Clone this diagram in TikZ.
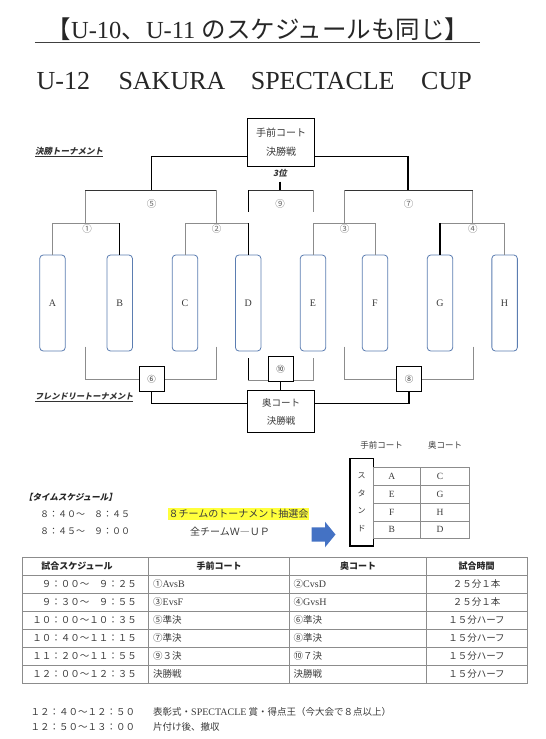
\documentclass[tikz,border=0pt]{standalone}
\usepackage{fontspec}
\setmainfont{Liberation Serif}
\newfontfamily\cjk{Noto Sans CJK JP}
\newfontfamily\cjksl[FakeSlant=0.2]{Noto Sans CJK JP}
\newcommand\JP[1]{{\cjk #1}}
\usetikzlibrary{calc,backgrounds}
\definecolor{teamblue}{HTML}{5B7DB1}
\definecolor{arrowblue}{HTML}{4472C4}
\definecolor{lngray}{HTML}{8C8C8C}
\definecolor{txtgray}{HTML}{3A3A3A}
\definecolor{hl}{HTML}{FFFF3C}
\begin{document}
\begin{tikzpicture}[x=1pt,y=-1pt,
  every node/.style={inner sep=0pt},
  dk/.style={draw=black, line width=1.1pt},
  md/.style={draw=black!80, line width=0.85pt},
  gl/.style={draw=lngray, line width=0.75pt},
  team/.style={draw=teamblue, line width=0.8pt, rounded corners=3.5pt, minimum width=25.5pt, minimum height=96pt, font=\fontsize{10}{12}\selectfont, text=txtgray},
  fbox/.style={draw=black, line width=1pt, minimum width=66.5pt, fill=white, align=center, text=txtgray},
  sbox/.style={draw=black, line width=1pt, minimum width=25pt, minimum height=25.5pt, fill=white, font=\cjk\fontsize{8.5}{10}\selectfont, text=txtgray},
  num/.style={font=\cjk\fontsize{9.5}{10}\selectfont, text=black!60},
  jt/.style={font=\cjk\fontsize{9.5}{11}\selectfont, text=txtgray},
  cellbox/.style={draw=lngray, line width=0.7pt, minimum height=17.8pt},
  letter/.style={font=\fontsize{9.5}{11}\selectfont, text=txtgray},
  hdr/.style={font=\cjk\bfseries\fontsize{9}{10}\selectfont, text=black!85},
  tl/.style={draw=lngray, line width=0.8pt}
]
\useasboundingbox (0,0) rectangle (546,739);

% ---------- titles ----------
\node[anchor=base, font=\fontsize{24.5}{28}\selectfont, text=black!85] (t1) at (258,38.5) {\JP{【}U-10\JP{、}U-11 \JP{のスケジュールも同じ】}};
\draw[line width=1.2pt, black!75] (34.8,42.5) -- (480,42.5);
\node[anchor=base west, font=\fontsize{26}{30}\selectfont, text=black!85] (t2a) at (36.5,89) {U-12};
\node[anchor=base west, font=\fontsize{26}{30}\selectfont, text=black!85] (t2b) at (118.3,89) {SAKURA};
\node[anchor=base west, font=\fontsize{26}{30}\selectfont, text=black!85] (t2c) at (250.6,89) {SPECTACLE};
\node[anchor=base west, font=\fontsize{26}{30}\selectfont, text=black!85] (t2d) at (421,89) {CUP};

% ---------- main tournament ----------
\node[fbox, minimum height=48.5pt, font=\cjk\fontsize{10}{19}\selectfont] (fin1) at (281,142.5) {手前コート\\決勝戦};
\node[anchor=west, font=\cjksl\bfseries\fontsize{8.5}{10}\selectfont, text=black!80] (lab1) at (34.8,152) {\underline{決勝トーナメント}};
\node[font=\cjksl\bfseries\fontsize{8.5}{10}\selectfont, text=black!80] (third) at (280,173.3) {3位};

\node[team] (A) at (52.5,303) {A};
\node[team] (B) at (119.7,303) {B};
\node[team] (C) at (185,303) {C};
\node[team] (D) at (248.2,303) {D};
\node[team] (E) at (313,303) {E};
\node[team] (F) at (375,303) {F};
\node[team] (G) at (440,303) {G};
\node[team] (H) at (504.6,303) {H};

\coordinate (tL) at (fin1.west |- 0,156.7);
\coordinate (tR) at (fin1.east |- 0,156.7);
\coordinate (s5) at (151.7,190);
\coordinate (s7) at (408,190);
\coordinate (s9) at (280,190);
\coordinate (n9) at (280,181.7);
\coordinate (q1) at (85,223.3);
\coordinate (q2) at (216,223.3);
\coordinate (q3) at (344.5,223.3);
\coordinate (q4) at (472.6,223.3);

\draw[dk] (tL) -| (s5);
\draw[dk] (tR) -| (s7);
\draw[gl] (q1) -- (q1 |- s5);
\draw[gl] (q2) -- (q2 |- s5);
\draw[md] (q1 |- s5) -- (q2 |- s5);
\draw[gl] (q3) -- (q3 |- s7);
\draw[gl] (q4) -- (q4 |- s7);
\draw[md] (q3 |- s7) -- (q4 |- s7);
\draw[dk] (n9) -- (s9);
\draw[md] (D.north |- s9) -- (E.north |- s9);
\draw[gl] (E.north |- s9) -- (E.north |- 0,211.7);
\draw[dk] (D.north |- s9) -- (D.north |- 0,211.7);

\draw[gl] (A.north) |- (B.north |- q1);
\draw[dk] (B.north) -- (B.north |- q1);
\draw[gl] (C.north) |- (D.north |- q2);
\draw[dk] (D.north) -- (D.north |- q2);
\draw[gl] (E.north) |- (F.north |- q3);
\draw[gl] (F.north) -- (F.north |- q3);
\draw[gl] (H.north) |- (G.north |- q4);
\draw[dk] (G.north) -- (G.north |- q4);

\node[num] (L5) at (151.7,203.5) {⑤};
\node[num] (L9) at (280,203.5) {⑨};
\node[num] (L7) at (408.5,203.5) {⑦};
\node[num] (L1) at (87,228.8) {①};
\node[num] (L2) at (216.5,228.8) {②};
\node[num] (L3) at (344.7,228.8) {③};
\node[num] (L4) at (472.9,228.8) {④};

% ---------- friendly tournament ----------
\node[sbox] (b6) at (151.5,379) {⑥};
\node[sbox] (b10) at (280.5,369) {⑩};
\node[sbox] (b8) at (409,379) {⑧};
\node[fbox, minimum height=42pt, font=\cjk\fontsize{9.5}{18.4}\selectfont] (fin2) at (281,411.7) {奥コート\\決勝戦};
\node[anchor=west, font=\cjksl\bfseries\fontsize{8.2}{10}\selectfont, text=black!80] (lab2) at (34.8,397.3) {\underline{フレンドリートーナメント}};

\coordinate (p6L) at (85,346.7);
\coordinate (p6R) at (216,346.7);
\coordinate (p8L) at (344,346.7);
\coordinate (p8R) at (472.9,346.7);
\coordinate (p10L) at (D.south |- 0,358.3);
\coordinate (p10R) at (E.south |- 0,358.3);
\coordinate (c6) at (fin2.west |- 0,403.3);
\coordinate (c8) at (fin2.east |- 0,403.3);

\begin{scope}[on background layer]
\draw[gl] (p6L) |- (b6.west);
\draw[gl] (p6R) |- (b6.east);
\draw[gl] (p8L) |- (b8.west);
\draw[gl] (p8R) |- (b8.east);
\draw[gl] (p10L |- 0,380) -- (p10R |- 0,380) -- (p10R);
\draw[dk] (p10L) -- (p10L |- 0,380);
\end{scope}
\draw[dk] (b6.south) |- (c6);
\draw[dk] (b8.south) |- (c8);
\draw[dk] (b10.south) -- (b10.south |- fin2.north);

% ---------- stand / court table ----------
\node[jt, font=\cjk\fontsize{8.5}{10}\selectfont] (hdF) at (381.7,445) {手前コート};
\node[jt, font=\cjk\fontsize{8.5}{10}\selectfont] (hdO) at (445,445) {奥コート};
\node[draw=black, line width=1.3pt, minimum width=23.3pt, minimum height=87.7pt, align=center, font=\cjk\fontsize{8}{17.6}\selectfont, text=txtgray] (stand) at (361.7,502.2) {ス\\タ\\ン\\ド};
\node[cellbox, minimum width=47.4pt] (c11) at (397,476.4) {};
\node[cellbox, minimum width=48.7pt] (c12) at (445.05,476.4) {};
\node[cellbox, minimum width=47.4pt] (c21) at (397,494.2) {};
\node[cellbox, minimum width=48.7pt] (c22) at (445.05,494.2) {};
\node[cellbox, minimum width=47.4pt] (c31) at (397,512) {};
\node[cellbox, minimum width=48.7pt] (c32) at (445.05,512) {};
\node[cellbox, minimum width=47.4pt] (c41) at (397,529.8) {};
\node[cellbox, minimum width=48.7pt] (c42) at (445.05,529.8) {};
\node[letter] (x11) at (391.7,476.4) {A};
\node[letter] (x12) at (440,476.4) {C};
\node[letter] (x21) at (391.7,494.2) {E};
\node[letter] (x22) at (440,494.2) {G};
\node[letter] (x31) at (391.7,512) {F};
\node[letter] (x32) at (440,512) {H};
\node[letter] (x41) at (391.7,529.8) {B};
\node[letter] (x42) at (440,529.8) {D};

% ---------- time schedule ----------
\node[anchor=west, font=\cjksl\bfseries\fontsize{8.5}{10}\selectfont, text=black!85] (ts) at (24,497) {【タイムスケジュール】};
\node[anchor=west, jt, font=\cjk\fontsize{9}{10}\selectfont] (tA) at (40,514) {８：４０～　８：４５};
\node[anchor=west, jt, font=\cjk\fontsize{9}{10}\selectfont] (tB) at (40,531.5) {８：４５～　９：００};
\node[fill=hl, inner xsep=1pt, inner ysep=1.5pt, font=\cjk\fontsize{10}{11}\selectfont, text=txtgray] (lot) at (238.5,514) {８チームのトーナメント抽選会};
\node[jt, font=\cjk\fontsize{10}{11}\selectfont] (wup) at (230,531.5) {全チームＷ―ＵＰ};
\fill[arrowblue] (311.7,527.3) -- (325,527.3) -- (325,521.7) -- (335.5,534.5) -- (325,547.3) -- (325,541.7) -- (311.7,541.7) -- cycle;

% ---------- main schedule table ----------
\draw[tl] (22.5,557) rectangle (527,683);
\foreach \yy in {575,593,611,629,647,665} \draw[tl] (22.5,\yy) -- (527,\yy);
\foreach \xx in {148.5,289,426.5} \draw[tl] (\xx,557) -- (\xx,683);
\node[hdr] (h1) at (77,566) {試合スケジュール};
\node[hdr] (h2) at (219,566) {手前コート};
\node[hdr] (h3) at (358,566) {奥コート};
\node[hdr] (h4) at (476.5,566) {試合時間};

\node[jt, anchor=east] (r1a) at (137,584) {９：００～　９：２５};
\node[jt, anchor=west] (r1b) at (153,584) {①{\rmfamily\fontsize{10}{11}\selectfont AvsB}};
\node[jt, anchor=west] (r1c) at (293.5,584) {②{\rmfamily\fontsize{10}{11}\selectfont CvsD}};
\node[jt] (r1d) at (476.5,584) {２５分１本};

\node[jt, anchor=east] (r2a) at (137,602) {９：３０～　９：５５};
\node[jt, anchor=west] (r2b) at (153,602) {③{\rmfamily\fontsize{10}{11}\selectfont EvsF}};
\node[jt, anchor=west] (r2c) at (293.5,602) {④{\rmfamily\fontsize{10}{11}\selectfont GvsH}};
\node[jt] (r2d) at (476.5,602) {２５分１本};

\node[jt, anchor=east] (r3a) at (137,620) {１０：００～１０：３５};
\node[jt, anchor=west] (r3b) at (153,620) {⑤準決};
\node[jt, anchor=west] (r3c) at (293.5,620) {⑥準決};
\node[jt] (r3d) at (476.5,620) {１５分ハーフ};

\node[jt, anchor=east] (r4a) at (137,638) {１０：４０～１１：１５};
\node[jt, anchor=west] (r4b) at (153,638) {⑦準決};
\node[jt, anchor=west] (r4c) at (293.5,638) {⑧準決};
\node[jt] (r4d) at (476.5,638) {１５分ハーフ};

\node[jt, anchor=east] (r5a) at (137,656) {１１：２０～１１：５５};
\node[jt, anchor=west] (r5b) at (153,656) {⑨３決};
\node[jt, anchor=west] (r5c) at (293.5,656) {⑩７決};
\node[jt] (r5d) at (476.5,656) {１５分ハーフ};

\node[jt, anchor=east] (r6a) at (137,674) {１２：００～１２：３５};
\node[jt, anchor=west] (r6b) at (153,674) {決勝戦};
\node[jt, anchor=west] (r6c) at (293.5,674) {決勝戦};
\node[jt] (r6d) at (476.5,674) {１５分ハーフ};

% ---------- footer ----------
\node[jt, anchor=west] (f1a) at (30.5,712) {１２：４０～１２：５０};
\node[jt, anchor=west] (f1b) at (153,712) {表彰式・{\rmfamily\fontsize{10}{11}\selectfont SPECTACLE} 賞・得点王（今大会で８点以上）};
\node[jt, anchor=west] (f2a) at (30.5,727) {１２：５０～１３：００};
\node[jt, anchor=west] (f2b) at (153,727) {片付け後、撤収};
\end{tikzpicture}
\end{document}
